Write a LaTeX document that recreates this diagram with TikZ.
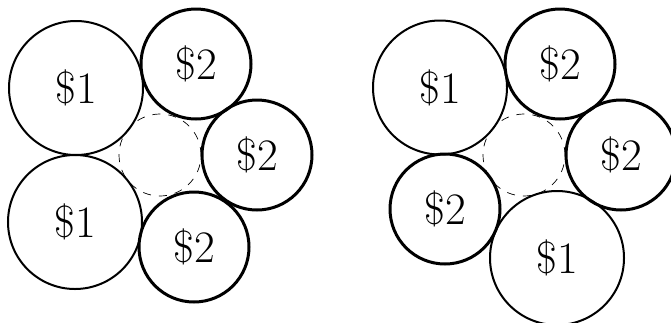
\documentclass[tikz,border=0pt]{standalone}
\begin{document}
\begin{tikzpicture}[x=1pt,y=-1pt,
  coin/.style={circle,draw,inner sep=0pt,font=\fontsize{45}{52}\selectfont},
  one/.style={coin,minimum size=134pt,line width=2pt},
  two/.style={coin,minimum size=110pt,line width=3pt},
  hole/.style={circle,draw,inner sep=0pt,minimum size=82pt,line width=0.7pt,dash pattern=on 8pt off 8pt}]
\useasboundingbox (0,0) rectangle (671,322);
\clip (0,0) rectangle (671,322);
% left group
\node[hole] (lh) at (160,155) {};
\node[one] (la) at (76,88) {\$1};
\node[one] (lb) at (75,222) {\$1};
\node[two] (lc) at (196,64) {\$2};
\node[two] (ld) at (257,155) {\$2};
\node[two] (le) at (194,247) {\$2};
% right group
\node[hole] (rh) at (524,155) {};
\node[one] (ra) at (440,87.5) {\$1};
\node[two] (rb) at (560,64) {\$2};
\node[two] (rc) at (621,155) {\$2};
\node[two] (rd) at (445,209) {\$2};
\node[one] (re) at (557,258) {\$1};
\end{tikzpicture}
\end{document}
